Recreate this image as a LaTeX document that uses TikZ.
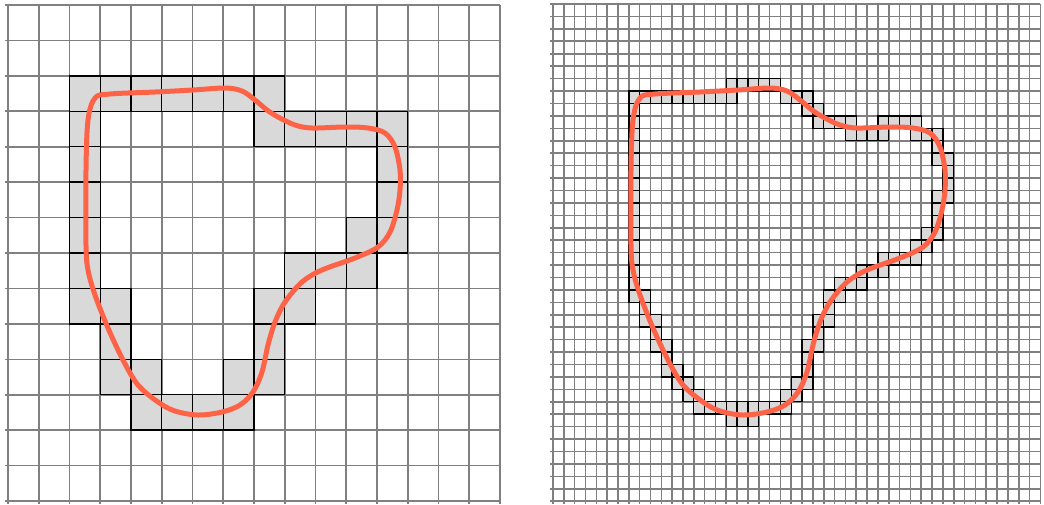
\documentclass[tikz,border=0pt]{standalone}
\definecolor{gridgray}{RGB}{128,128,128}
\definecolor{cellfill}{RGB}{217,217,217}
\definecolor{curvecol}{RGB}{255,99,71}
\tikzset{
  gridline/.style={draw=gridgray,line width=1.6pt},
  cellsty/.style={fill=cellfill,draw=black,line width=1.4pt},
  curvesty/.style={draw=curvecol,line width=5pt,line join=round}
}
\newcommand\cellL[2]{\draw[cellsty] ({8+30.75*#1},{5+35.43*#2}) rectangle ++(30.75,35.43);}
\newcommand\cellR[2]{\draw[cellsty] ({553+10.83*#1},{4+12.43*#2}) rectangle ++(10.83,12.43);}
\newcommand\rowL[3]{\foreach \c in {#1,...,#2}{\cellL{\c}{#3}}}
\newcommand\rowR[3]{\foreach \c in {#1,...,#2}{\cellR{\c}{#3}}}
\newcommand\blobpath{plot[smooth cycle,tension=0.55] coordinates {
 (640,98) (655,94) (700,92) (738,90) (770,88) (787,91) (800,100) (812,110)
 (823,117) (840,125) (857,128) (890,127) (913,128) (930,133) (940,147)
 (945,170) (945,190) (942,210) (935,232) (923,247) (900,258) (867,270)
 (847,282) (830,302) (820,322) (813,345) (807,372) (798,392) (785,405)
 (767,412) (743,415) (720,411) (703,402) (683,385) (668,360) (653,328)
 (640,295) (633,270) (631,245) (631,170) (633,120)}}
\begin{document}
\begin{tikzpicture}[x=1pt,y=-1pt]
\useasboundingbox (0,0) rectangle (1044,504);
% left grid
\foreach \i in {0,...,16}{\draw[gridline] ({8+30.75*\i},5) -- ({8+30.75*\i},504);}
\foreach \j in {0,...,14}{\draw[gridline] (5,{5+35.43*\j}) -- (500,{5+35.43*\j});}
% right grid
\foreach \k in {0,...,45}{\draw[gridline] ({553+10.83*\k},4) -- ({553+10.83*\k},504);}
\foreach \m in {0,...,40}{\draw[gridline] (550,{4+12.43*\m}) -- (1040.4,{4+12.43*\m});}
% left shaded cells
\rowL{2}{8}{2}
\rowL{2}{2}{3} \rowL{8}{12}{3}
\rowL{2}{2}{4} \rowL{12}{12}{4}
\rowL{2}{2}{5} \rowL{12}{12}{5}
\rowL{2}{2}{6} \rowL{11}{12}{6}
\rowL{2}{2}{7} \rowL{9}{11}{7}
\rowL{2}{3}{8} \rowL{8}{9}{8}
\rowL{3}{3}{9} \rowL{8}{8}{9}
\rowL{3}{4}{10} \rowL{7}{8}{10}
\rowL{4}{7}{11}
% right shaded cells
\rowR{16}{20}{6}
\rowR{7}{16}{7} \rowR{21}{23}{7}
\rowR{7}{7}{8} \rowR{23}{24}{8}
\rowR{7}{7}{9} \rowR{24}{27}{9} \rowR{30}{33}{9}
\rowR{7}{7}{10} \rowR{27}{30}{10} \rowR{33}{35}{10}
\rowR{7}{7}{11} \rowR{35}{35}{11}
\rowR{7}{7}{12} \rowR{35}{36}{12}
\rowR{7}{7}{13} \rowR{36}{36}{13}
\rowR{7}{7}{14} \rowR{36}{36}{14}
\rowR{7}{7}{15} \rowR{35}{36}{15}
\rowR{7}{7}{16} \rowR{35}{35}{16}
\rowR{7}{7}{17} \rowR{35}{35}{17}
\rowR{7}{7}{18} \rowR{34}{35}{18}
\rowR{7}{7}{19} \rowR{33}{34}{19}
\rowR{7}{7}{20} \rowR{30}{33}{20}
\rowR{7}{7}{21} \rowR{28}{30}{21}
\rowR{7}{7}{22} \rowR{26}{28}{22}
\rowR{7}{8}{23} \rowR{25}{26}{23}
\rowR{8}{8}{24} \rowR{25}{25}{24}
\rowR{8}{9}{25} \rowR{24}{25}{25}
\rowR{9}{9}{26} \rowR{24}{24}{26}
\rowR{9}{10}{27} \rowR{23}{24}{27}
\rowR{10}{10}{28} \rowR{23}{23}{28}
\rowR{10}{11}{29} \rowR{23}{23}{29}
\rowR{11}{12}{30} \rowR{22}{23}{30}
\rowR{12}{13}{31} \rowR{21}{22}{31}
\rowR{13}{21}{32}
\rowR{16}{18}{33}
% curves
\draw[curvesty] \blobpath;
\begin{scope}[shift={(-545,0)}]
\draw[curvesty] \blobpath;
\end{scope}
\end{tikzpicture}
\end{document}
